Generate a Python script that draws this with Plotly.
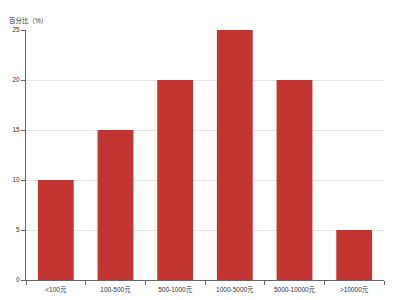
import plotly.graph_objects as go

categories = ["<100元", "100-500元", "500-1000元", "1000-5000元", "5000-10000元", ">10000元"]
values = [10, 15, 20, 25, 20, 5]
y_ticks = [0, 5, 10, 15, 20, 25]

FONT = "Liberation Sans, Arial, Noto Sans CJK SC, sans-serif"

fig = go.Figure(go.Bar(x=categories, y=values, marker_color="#c23531",
                       marker_line_width=0))
fig.update_layout(
    width=400, height=300,
    margin=dict(l=26, r=16, t=30, b=20),
    paper_bgcolor="white", plot_bgcolor="white",
    bargap=0.4, showlegend=False,
    font=dict(family=FONT, size=6, color="#333"),
)
fig.update_xaxes(type="category", showline=True, linecolor="#666", linewidth=1,
                 ticks="outside", ticklen=4, tickcolor="#666", tickson="boundaries",
                 ticklabelstandoff=3, automargin=False,
                 showgrid=False, tickfont=dict(family=FONT, size=6.5, color="#333"))
fig.update_yaxes(range=[0, 25], tickvals=y_ticks, showline=True, linecolor="#666",
                 linewidth=1, ticks="outside", ticklen=4, tickcolor="#666",
                 showgrid=True, gridcolor="#e6e6e6", zeroline=False, automargin=False,
                 tickfont=dict(family=FONT, size=6.5, color="#333"))
fig.add_annotation(text="百分比（%）", xref="paper", yref="paper", x=-0.053, y=1.0,
                   yshift=10, xanchor="left", yanchor="middle", showarrow=False,
                   font=dict(family=FONT, size=6.5, color="#333"))
fig.write_html("out.html")
